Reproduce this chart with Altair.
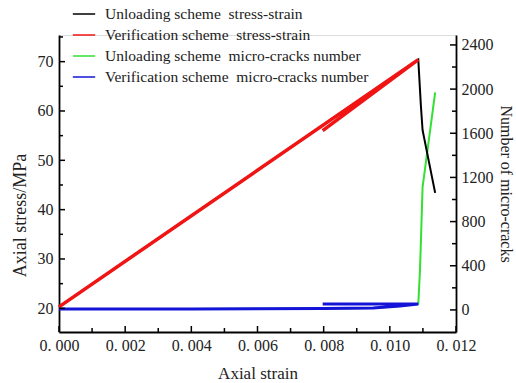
import altair as alt
import pandas as pd

# ---- data ----
series_names = [
    "Unloading scheme\u00a0 stress-strain",
    "Verification scheme\u00a0 stress-strain",
    "Unloading scheme\u00a0 micro-cracks number",
    "Verification scheme\u00a0 micro-cracks number",
]
series_colors = ["#000000", "#f01414", "#33e033", "#1414d8"]

unload_ss_strain = [0.0, 0.01086, 0.01094, 0.01099, 0.01137]
unload_ss_stress = [20.3, 70.4, 60.9, 56.1, 43.4]
verif_ss_strain = [0.0, 0.01086, 0.00797]
verif_ss_stress = [20.3, 70.4, 56.0]
unload_mc_strain = [0.0, 0.0040, 0.0080, 0.0095, 0.0103, 0.01086, 0.01091, 0.01094, 0.01099, 0.01137]
unload_mc_count = [9, 9, 12, 18, 35, 54, 350, 629, 1113, 1971]
verif_mc_strain = [0.0, 0.0040, 0.0080, 0.0095, 0.0103, 0.01086, 0.00797]
verif_mc_count = [9, 9, 12, 18, 35, 54, 54]

x_major = [0.0, 0.002, 0.004, 0.006, 0.008, 0.010, 0.012]
x_minor = [0.001, 0.003, 0.005, 0.007, 0.009, 0.011]
yl_major = [20, 30, 40, 50, 60, 70]
yl_minor = [25, 35, 45, 55, 65, 75]
yr_major = [0, 400, 800, 1200, 1600, 2000, 2400]
yr_minor = [200, 600, 1000, 1400, 1800, 2200]

W, H = 397, 297
FONT = "Liberation Serif"
TXT = "#222222"


def frame(name, xs, ys):
    return pd.DataFrame({"series": name, "strain": xs, "value": ys, "order": list(range(len(xs)))})


x_scale = alt.Scale(domain=[0, 0.012], nice=False, zero=False)
yl_scale = alt.Scale(domain=[15.2, 75.4], nice=False, zero=False)
yr_scale = alt.Scale(domain=[-200, 2490], nice=False, zero=False)

common_axis = dict(ticks=False, tickSize=0, grid=False, domainColor="black", domainWidth=1.8,
                   labelFont=FONT, labelFontSize=16, labelColor=TXT, labelFlush=False,
                   labelOverlap=False,
                   titleFont=FONT, titleFontWeight="normal", titleColor=TXT)

x_axis = alt.Axis(values=x_major, title="Axial strain", labelPadding=5, titlePadding=12,
                  titleFontSize=17,
                  labelExpr="replace(format(datum.value, '.3f'), '.', '. ')", **common_axis)
yl_axis = alt.Axis(values=yl_major, title="Axial stress/MPa", orient="left", labelPadding=6,
                   titlePadding=8, titleFontSize=18, titleY=180, format="d", **common_axis)
yr_axis = alt.Axis(values=yr_major, title="Number of micro-cracks", orient="right", labelPadding=5,
                   titlePadding=4, titleFontSize=16, format="d", **common_axis)

color = alt.Color("series:N", scale=alt.Scale(domain=series_names, range=series_colors),
                  legend=alt.Legend(orient="none", legendX=13, legendY=-33, title=None,
                                    symbolType="stroke", symbolSize=500, symbolStrokeWidth=1.5,
                                    labelFont=FONT, labelFontSize=15.5, labelColor=TXT,
                                    labelOffset=9, rowPadding=0, labelLimit=450))


def line(df, yscale, yaxis, sw):
    return alt.Chart(df).mark_line(strokeWidth=sw, strokeCap="butt", strokeJoin="miter").encode(
        x=alt.X("strain:Q", scale=x_scale, axis=x_axis),
        y=alt.Y("value:Q", scale=yscale, axis=yaxis),
        color=color,
        order="order:Q",
    )


def yticks(vals, yscale, yaxis, x0, x1):
    return alt.Chart(pd.DataFrame({"v": vals})).mark_rule(color="black", strokeWidth=1.5).encode(
        y=alt.Y("v:Q", scale=yscale, axis=yaxis), x=alt.value(x0), x2=alt.value(x1))


def xticks(vals, length):
    return alt.Chart(pd.DataFrame({"v": vals})).mark_rule(color="black", strokeWidth=1.5).encode(
        x=alt.X("v:Q", scale=x_scale, axis=x_axis), y=alt.value(H), y2=alt.value(H - length))


left = alt.layer(
    line(frame(series_names[0], unload_ss_strain, unload_ss_stress), yl_scale, yl_axis, 2),
    line(frame(series_names[1], verif_ss_strain, verif_ss_stress), yl_scale, yl_axis, 3.5),
    yticks(yl_major, yl_scale, yl_axis, 0, 6),
    yticks(yl_minor, yl_scale, yl_axis, 0, 4),
    xticks(x_major, 6),
    xticks(x_minor, 4),
)

right = alt.layer(
    line(frame(series_names[2], unload_mc_strain, unload_mc_count), yr_scale, yr_axis, 2),
    line(frame(series_names[3], verif_mc_strain, verif_mc_count), yr_scale, yr_axis, 3),
    yticks(yr_major, yr_scale, yr_axis, W, W - 6),
    yticks(yr_minor, yr_scale, yr_axis, W, W - 4),
)

chart = alt.layer(right, left).resolve_scale(y="independent").properties(
    width=W, height=H,
    autosize=alt.AutoSizeParams(type="none"),
    padding={"left": 59, "top": 35, "right": 60, "bottom": 51},
).configure_view(stroke=None).configure(background="white")

chart.save("out.html", embed_options={"renderer": "svg", "actions": False})
